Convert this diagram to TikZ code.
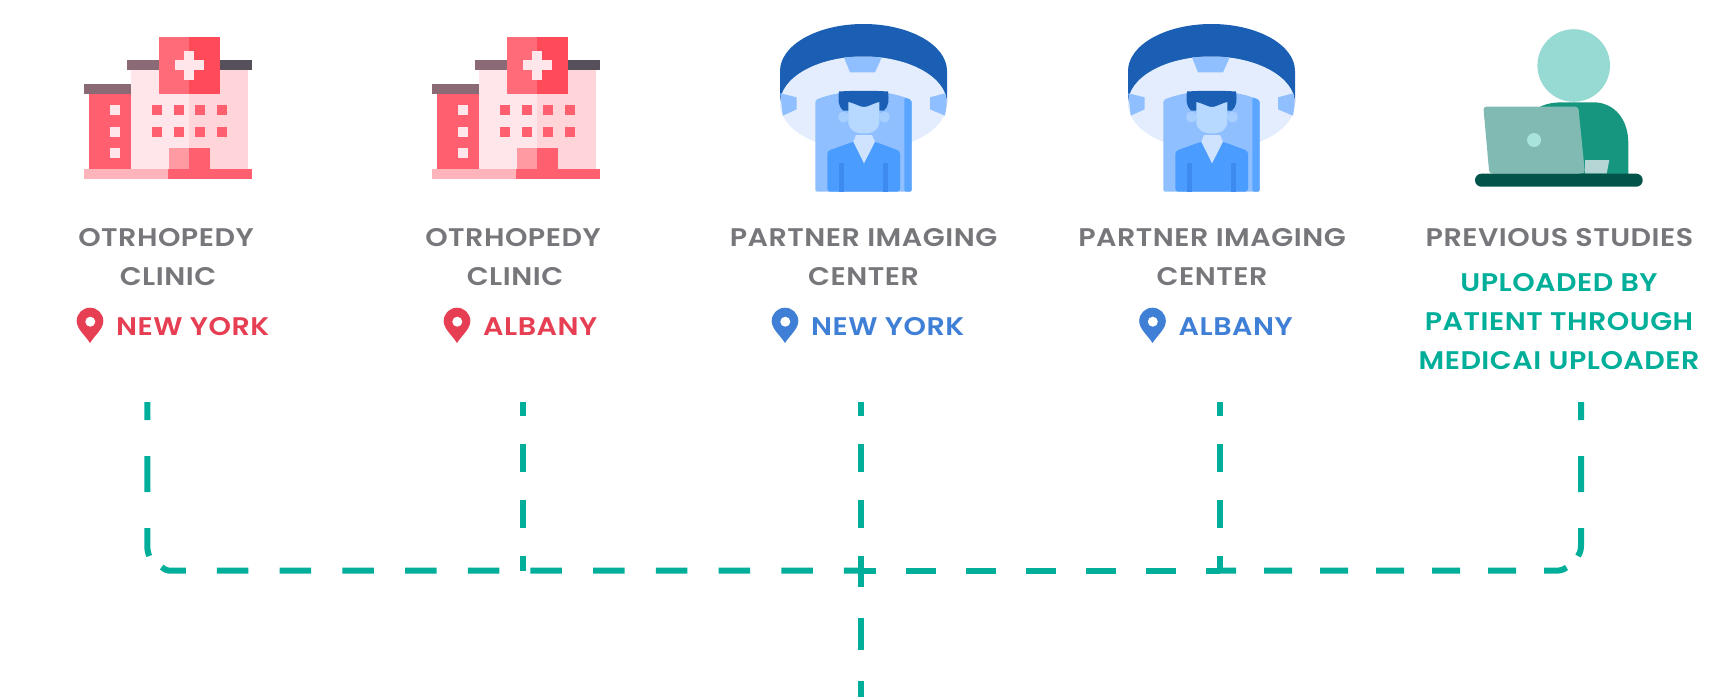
\documentclass[tikz,border=0pt]{standalone}
\usepackage{fontspec}
\setmainfont{Poppins}[BoldFont={Poppins SemiBold}, BoldFeatures={FakeStretch=1.12, LetterSpace=2}]
\usetikzlibrary{calc}

\definecolor{linkteal}{HTML}{00AE99}
\definecolor{titlegray}{HTML}{77777B}
\definecolor{placered}{HTML}{E63E52}
\definecolor{placeblue}{HTML}{3F7FD6}

\tikzset{
    hospital/.pic={
        % main block and roof
        \fill[HTML=FFE6EA] (131,70) rectangle (189.3,169);
        \fill[HTML=FFD5DA] (189.3,70) rectangle (247.7,169);
        \fill[HTML=8A6A74] (126.7,60.3) rectangle (159,70.3);
        \fill[HTML=55505A] (220,60.3) rectangle (252,70.3);
        % side wing
        \fill[HTML=FF5F6E] (88.7,93) rectangle (131,169);
        \fill[HTML=8A6A74] (84,84) rectangle (131,93.7);
        % sign
        \fill[HTML=FF6B78] (158.7,37) rectangle (189.3,93.7);
        \fill[HTML=FF4A5A] (189.3,37) rectangle (220,93.7);
        \fill[HTML=FFE6EA] (174.8,60.3) rectangle (203.8,70.3);
        \fill[HTML=FFE6EA] (184.3,50.8) rectangle (194.3,79.8);
        % windows
        \foreach \wx in {152.3,173.7,195,216.7}
            \foreach \wy in {105.3,126.7}
                \fill[HTML=FF5F6E] (\wx,\wy) rectangle ++(10,10);
        \foreach \wy in {105.3,126.7,148}
            \fill[HTML=FFE6EA] (110,\wy) rectangle ++(10,10);
        % door and base
        \fill[HTML=FF9AA2] (168.7,148) rectangle (189.3,169);
        \fill[HTML=FF5F6E] (189.3,148) rectangle (210.3,169);
        \fill[HTML=FFB3BA] (84,169) rectangle (168,179);
        \fill[HTML=FF5F6E] (168,169) rectangle (252,179);
    },
    scanner/.pic={
        % ring
        \fill[HTML=1A5FB4] (780,71) arc[start angle=180, end angle=360, x radius=83.5, y radius=47] -- (947,103) -- (780,103) -- cycle;
        \fill[HTML=E3EDFD] (863.5,103.5) ellipse[x radius=83.5, y radius=47];
        \fill[HTML=8FBFFF] (844,57.5) .. controls (856,56.5) and (870,56.5) .. (881.7,57.5) -- (875,72.3) -- (850,72.3) -- cycle;
        \fill[HTML=8FBFFF] (780.3,93.3) -- (796.7,97.3) -- (796.7,109.3) -- (782.7,115.7) -- cycle;
        \fill[HTML=8FBFFF] (930,97.3) -- (945.3,93.3) -- (946.7,103.5) -- (945,115.7) -- (930,109.3) -- cycle;
        % bore
        \fill[HTML=8FBFFF, rounded corners=2] (815.3,191.7) -- (815.3,100) .. controls (830,94) and (848,91) .. (863.5,91) .. controls (880,91) and (897,94) .. (911.7,100) -- (911.7,191.7) -- cycle;
        \fill[HTML=5AA5FF, rounded corners=2] (904.3,97.5) -- (911.7,100) -- (911.7,191.7) -- (904.3,191.7) -- cycle;
        % patient
        \fill[HTML=A9CFFF] (843.5,117) circle[radius=5.5];
        \fill[HTML=A9CFFF] (884.5,117) circle[radius=5.5];
        \fill[HTML=1A5FB4] (843,110.5) .. controls (838,106) and (838,100) .. (839,91.5) .. controls (855,90.5) and (872,90.5) .. (888,91.5) .. controls (889,100) and (889,106) .. (884,110.5) -- cycle;
        \fill[HTML=B7D8FF] (848.3,102) .. controls (856,104) and (860,107) .. (864,107) .. controls (868,107) and (872,104) .. (879.3,102) -- (879.3,122) .. controls (879.3,130) and (872,133.5) .. (864,133.5) .. controls (856,133.5) and (848.3,130) .. (848.3,122) -- cycle;
        \fill[HTML=4A9CFF, rounded corners=3] (827.3,191.7) -- (827.3,151) -- (853.3,141.7) -- (875,141.7) -- (900,151) -- (900,191.7) -- cycle;
        \fill[HTML=CFE3FF] (853.3,141.7) -- (856,135) -- (872,135) -- (875,141.7) -- (864,163.3) -- cycle;
        \fill[HTML=3D8AF0] (839,163) rectangle (844,191.7);
        \fill[HTML=3D8AF0] (883,163) rectangle (888,191.7);
    },
    uploader/.pic={
        \fill[HTML=96DAD3] (1573.7,65.5) circle[radius=36.3];
        \fill[HTML=16967F] (1540,106.7) .. controls (1548,103) and (1555,102.3) .. (1565,102.3) -- (1593,102.3) .. controls (1615,102.3) and (1628.3,120) .. (1628.3,143) -- (1628.3,174) -- (1580,174) -- cycle;
        \fill[HTML=B5D6D5] (1585,160) -- (1609.3,160) -- (1606.7,173.5) -- (1585,173.5) -- cycle;
        \fill[HTML=80BAB3, rounded corners=3] (1483.3,106.7) -- (1578.3,106.7) -- (1585,173.5) -- (1489.3,173.5) -- cycle;
        \fill[HTML=A8E3DC] (1534,140) circle[radius=7];
        \fill[HTML=00544A, rounded corners=6.4] (1475,173.7) rectangle (1642.7,186.7);
    },
    locpin/.pic={
        \fill[pic actions] (0,22) .. controls (-5,14) and (-13.3,8) .. (-13.3,0) arc[start angle=180, end angle=360, radius=13.3] .. controls (13.3,8) and (5,14) .. (0,22) -- cycle;
        \fill[white] (0.3,0.7) circle[radius=5];
    },
    HTML/.code={\definecolor{tmpfill}{HTML}{#1}\pgfkeysalso{fill=tmpfill}}
}

\begin{document}
\begin{tikzpicture}[
        x=1pt, y=-1pt,
        title/.style={inner sep=0pt, anchor=base, text=titlegray, font=\bfseries\fontsize{25.5}{25.5}\selectfont},
        place/.style={inner sep=0pt, anchor=base west, font=\bfseries\fontsize{25.5}{25.5}\selectfont},
        upload/.style={inner sep=0pt, anchor=base, text=linkteal, font=\bfseries\fontsize{25.5}{25.5}\selectfont},
        link/.style={draw=linkteal, line width=6pt},
        linkshort/.style={link, dash pattern=on 28pt off 28pt, dash phase=14pt},
        linktall/.style={link, dash pattern=on 36pt off 36pt, dash phase=18pt}
    ]
    \useasboundingbox (0,0) rectangle (1729,697);

    % Icons
    \pic at (0,0) {hospital};
    \pic at (348,0) {hospital};
    \pic at (0,0) {scanner};
    \pic at (348,0) {scanner};
    \pic at (0,0) {uploader};

    % Labels
    \node[title] (clinicnya) at (166,246) {OTRHOPEDY};
    \node[title] (clinicnyb) at (168,285) {CLINIC};
    \pic[fill=placered] at (90,321) {locpin};
    \node[place, text=placered] (clinicnyc) at (116,335) {NEW YORK};

    \node[title] (clinicala) at (513,246) {OTRHOPEDY};
    \node[title] (clinicalb) at (515,285) {CLINIC};
    \pic[fill=placered] at (457,321) {locpin};
    \node[place, text=placered] (clinicalc) at (483,335) {ALBANY};

    \node[title] (imagenya) at (863.5,246) {PARTNER IMAGING};
    \node[title] (imagenyb) at (863.5,285) {CENTER};
    \pic[fill=placeblue] at (785,321) {locpin};
    \node[place, text=placeblue] (imagenyc) at (811,335) {NEW YORK};

    \node[title] (imageala) at (1212,246) {PARTNER IMAGING};
    \node[title] (imagealb) at (1212,285) {CENTER};
    \pic[fill=placeblue] at (1152.5,321) {locpin};
    \node[place, text=placeblue] (imagealc) at (1178.5,335) {ALBANY};

    \node[title] (prevtitle) at (1559.5,246) {PREVIOUS STUDIES};
    \node[upload] (prevupa) at (1559,291) {UPLOADED BY};
    \node[upload] (prevupb) at (1559,330) {PATIENT THROUGH};
    \node[upload] (prevupc) at (1559,369.5) {MEDICAI UPLOADER};

    % Link ends
    \coordinate (topa) at (147.3,402);
    \coordinate (topb) at (523.3,402);
    \coordinate (topc) at (861,402);
    \coordinate (topd) at (1220,402);
    \coordinate (tope) at (1581,402);
    \coordinate (bendav) at (147.3,545);
    \coordinate (bendev) at (1581,545);
    \coordinate (joinb) at (523.3,570.7);
    \coordinate (joinc) at (861,570.7);
    \coordinate (joind) at (1220,570.7);
    \coordinate (bottom) at (861,697);
    \coordinate (starta) at (161.7,567);
    \coordinate (ende) at (1566.5,567.5);

    % Links
    \draw[linktall] (topa) -- (bendav) .. controls (147.3,549) and (147.5,552) .. (149.3,556);
    \draw[linktall] (tope) -- (bendev) .. controls (1581,549) and (1580.5,552) .. (1578,556);
    \draw[linkshort] (topb) -- (joinb);
    \draw[linkshort] (topc) -- (joinc);
    \draw[linkshort] (topd) -- (joind);
    \draw[link, dash pattern=on 31.3pt off 31.3pt, dash phase=15pt] (joinc) -- (bottom);
    \draw[link, dash pattern=on 31.5pt off 31.2pt, dash phase=6.5pt] (starta) .. controls (165,569.8) and (167,570.7) .. (172,570.7) -- (joinc);
    \draw[link, dash pattern=on 30pt off 30pt, dash phase=15pt] (joinc) -- (joind);
    \draw[link, dash pattern=on 28pt off 28pt, dash phase=12pt] (joind) -- (1555,570.7) .. controls (1560,570.7) and (1563,570) .. (ende);

\end{tikzpicture}
\end{document}
